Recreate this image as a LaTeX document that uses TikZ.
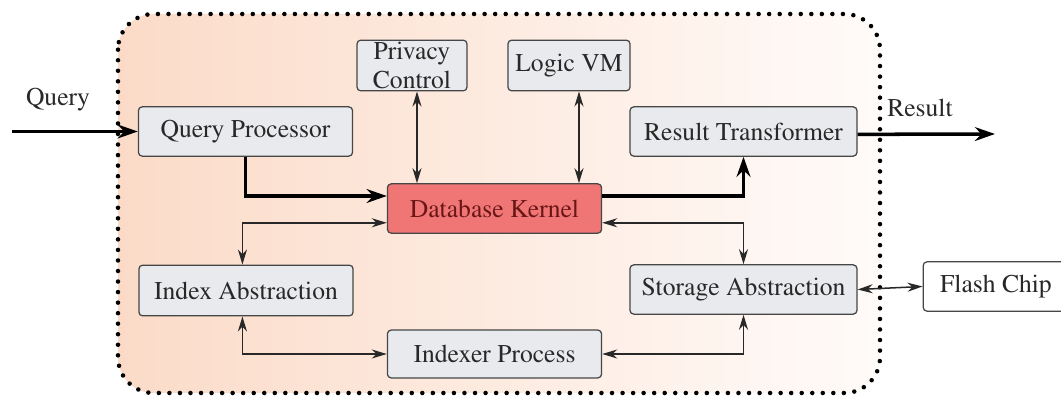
\documentclass[tikz,border=0pt]{standalone}
\usepackage[T1]{fontenc}
\usepackage{times}
\usetikzlibrary{arrows.meta,positioning}
\definecolor{figInk}{RGB}{40,40,40}
\definecolor{figLine}{RGB}{70,70,70}
\definecolor{figBox}{RGB}{233,234,237}
\definecolor{figKernel}{RGB}{240,118,118}
\definecolor{figKernelInk}{RGB}{105,22,22}
\definecolor{figPeach}{RGB}{251,219,200}
\definecolor{figPale}{RGB}{255,251,249}

\begin{document}
\begin{tikzpicture}[
  x=0.014cm,y=-0.014cm,
  font=\rmfamily\fontsize{10.2}{11.2}\selectfont,
  box/.style={draw=figLine,line width=0.5pt,rounded corners=1.5pt,fill=figBox,text=figInk,align=center,inner sep=1pt},
  wide/.style={box,minimum width=3.0cm,minimum height=0.69cm},
  wider/.style={box,minimum width=3.18cm,minimum height=0.69cm},
  small/.style={box,minimum height=0.71cm},
  kernel/.style={wide,fill=figKernel,text=figKernelInk},
  chip/.style={box,fill=white,minimum width=2.04cm,minimum height=0.69cm},
  region/.style={draw=black,line width=1.8pt,dash pattern=on 0pt off 4.2pt,line cap=round,rounded corners=0.5cm,left color=figPeach,right color=figPale},
  flowtext/.style={text=figInk,inner sep=1pt},
  mainflow/.style={-{Stealth[length=8pt,width=5.5pt]},line width=1.4pt,draw=black},
  sideflow/.style={{Stealth[length=6pt,width=3.6pt]}-{Stealth[length=6pt,width=3.6pt]},line width=0.6pt,draw=figInk}
]

\useasboundingbox (0,0) rectangle (1061,397);

\path[region] (118,14) rectangle (880,393);

\node[wide] (qp) at (245.5,131.5) {Query Processor};
\node[small,minimum width=1.54cm] (privacy) at (412,65.5) {Privacy\\Control};
\node[small,minimum width=1.71cm] (logic) at (569,65.5) {Logic VM};
\node[wider] (result) at (743.5,131.5) {Result Transformer};
\node[kernel] (kernel) at (494.5,208.5) {Database Kernel};
\node[wide,minimum height=0.71cm] (index) at (246,290.5) {Index Abstraction};
\node[wider] (storage) at (743.5,289.5) {Storage Abstraction};
\node[wide,minimum height=0.67cm] (indexer) at (494.5,354) {Indexer Process};
\node[chip] (flash) at (996,286.5) {Flash Chip};

\node[flowtext] (querytext) at (58,100) {Query};
\node[flowtext] (resulttext) at (920,108) {Result};
\coordinate (queryin) at (12,131.5);
\coordinate (resultout) at (995,134);

\draw[mainflow] (queryin) -- (qp.west);
\draw[mainflow] ([yshift=-0.04cm]result.east) -- (resultout);
\draw[mainflow] (qp.south) |- ([yshift=0.175cm]kernel.west);
\draw[mainflow] ([yshift=0.175cm]kernel.east) -| (result.south);

\draw[sideflow] ([xshift=0.07cm]privacy.south) -- ([xshift=0.07cm]privacy.south |- kernel.north);
\draw[sideflow] ([xshift=0.14cm]logic.south) -- ([xshift=0.14cm]logic.south |- kernel.north);
\draw[sideflow] ([yshift=-0.2cm]kernel.west) -| ([xshift=-0.05cm]index.north);
\draw[sideflow] ([yshift=-0.2cm]kernel.east) -| (storage.north);
\draw[sideflow] ([xshift=-0.05cm]index.south) |- (indexer.west);
\draw[sideflow] (storage.south) |- (indexer.east);
\draw[sideflow] (storage.east) -- (flash.west);

\end{tikzpicture}
\end{document}
